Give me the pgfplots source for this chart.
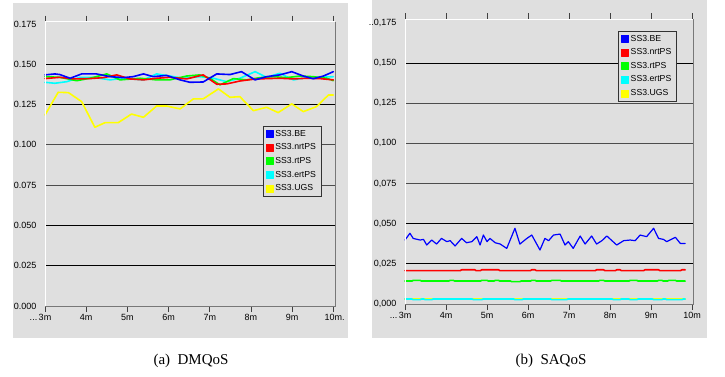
\documentclass[border=0pt]{standalone}
\usepackage{fontspec}
\setmainfont{Liberation Serif}
\newfontfamily\tahoma{Liberation Sans}
\usepackage{pgfplots}
\pgfplotsset{compat=1.18}
\definecolor{bg}{RGB}{223,223,223}
\definecolor{bordgray}{RGB}{120,120,120}
\definecolor{cBE}{RGB}{0,0,255}
\definecolor{cNRT}{RGB}{255,0,0}
\definecolor{cRT}{RGB}{0,255,0}
\definecolor{cERT}{RGB}{0,255,255}
\definecolor{cUGS}{RGB}{255,255,0}
\pgfplotsset{
  panel/.style={
    scale only axis, anchor=south west, clip=false,
    axis line style={draw=none},
    axis background/.style={fill=bg},
    ytick style={draw=none},
    xtick style={draw=black!75, line width=0.6pt},
    tick align=outside, major tick length=6pt,
    xtick={3,4,5,6,7,8,9,10},
    ytick={0,0.025,0.05,0.075,0.1,0.125,0.15,0.175},
    tick label style={font=\tahoma\fontsize{9}{10}\selectfont, text=black},
    /pgf/number format/assume math mode=true,
    yticklabel style={xshift=1pt},
    xticklabel style={yshift=1pt},
    every axis plot/.append style={line join=round, line cap=round},
    legend style={draw=black!80, fill=bg, font=\tahoma\fontsize{8.7}{9.5}\selectfont,
      inner xsep=3pt, inner ysep=2pt, row sep=2pt, cells={anchor=west}},
  },
}
\begin{document}
\begin{tikzpicture}
\path[use as bounding box] (0pt,0pt) rectangle (725pt,376pt);
\fill[bg] (13pt,38pt) rectangle (348pt,373pt);
\fill[bg] (372pt,38pt) rectangle (707pt,376pt);

% ---------------- left panel
\begin{axis}[panel, at={(45pt,70pt)}, width=290pt, height=284.3pt,
  xmin=3, xmax=10.04, ymin=0, ymax=0.1764,
  xticklabels={{\llap{...\,}3m},4m,5m,6m,7m,8m,9m,{10m\rlap{.}}},
  yticklabels={0.000,0.025,0.050,0.075,0.100,0.125,0.150,0.175},
  legend style={at={(0.751,0.633)}, anchor=north west}]
\addlegendimage{legend image code/.code={\fill[cBE] (0pt,-3.5pt) rectangle (7pt,3.5pt);}}
\addlegendentry{SS3.BE}
\addlegendimage{legend image code/.code={\fill[cNRT] (0pt,-3.5pt) rectangle (7pt,3.5pt);}}
\addlegendentry{SS3.nrtPS}
\addlegendimage{legend image code/.code={\fill[cRT] (0pt,-3.5pt) rectangle (7pt,3.5pt);}}
\addlegendentry{SS3.rtPS}
\addlegendimage{legend image code/.code={\fill[cERT] (0pt,-3.5pt) rectangle (7pt,3.5pt);}}
\addlegendentry{SS3.ertPS}
\addlegendimage{legend image code/.code={\fill[cUGS] (0pt,-3.5pt) rectangle (7pt,3.5pt);}}
\addlegendentry{SS3.UGS}
\draw[black, line width=0.7pt] (axis cs:3,0.025) -- (axis cs:10.04,0.025);
\draw[black, line width=0.7pt] (axis cs:3,0.05) -- (axis cs:10.04,0.05);
\draw[black!70, line width=0.9pt] (axis cs:3,0.075) -- (axis cs:10.04,0.075);
\draw[black!70, line width=0.9pt] (axis cs:3,0.1) -- (axis cs:10.04,0.1);
\draw[black, line width=0.7pt] (axis cs:3,0.125) -- (axis cs:10.04,0.125);
\draw[black, line width=0.7pt] (axis cs:3,0.15) -- (axis cs:10.04,0.15);
% UGS
\addplot[forget plot, cUGS, line width=1.6pt] coordinates {
(3.00,0.1185)(3.32,0.1326)(3.57,0.1324)(3.89,0.1268)(4.21,0.1109)(4.46,0.1138)(4.78,0.1138)
(5.10,0.1191)(5.39,0.1171)(5.71,0.1241)(5.95,0.1241)(6.28,0.1223)(6.60,0.1285)(6.84,0.1285)
(7.21,0.1347)(7.49,0.1295)(7.73,0.1299)(8.06,0.1212)(8.38,0.1233)(8.66,0.1200)(8.99,0.1254)
(9.27,0.1206)(9.59,0.1237)(9.88,0.1309)(10.00,0.1309)};
% ertPS
\addplot[forget plot, cERT, line width=1.6pt] coordinates {
(3.00,0.1388)(3.24,0.1382)(3.53,0.1392)(3.85,0.1419)(4.17,0.1419)(4.58,0.1403)(4.90,0.1413)
(5.39,0.1403)(5.71,0.1440)(6.03,0.1427)(6.36,0.1413)(6.76,0.1423)(7.09,0.1413)(7.41,0.1392)
(7.73,0.1413)(8.10,0.1454)(8.38,0.1419)(8.70,0.1444)(9.03,0.1403)(9.35,0.1417)(9.67,0.1419)(10.00,0.1423)};
% rtPS
\addplot[forget plot, cRT, line width=1.6pt] coordinates {
(3.00,0.1423)(3.36,0.1419)(3.77,0.1398)(4.09,0.1413)(4.50,0.1440)(4.82,0.1403)(5.31,0.1413)
(5.71,0.1403)(6.03,0.1403)(6.44,0.1427)(6.76,0.1434)(7.00,0.1413)(7.25,0.1372)(7.57,0.1411)
(7.89,0.1403)(8.22,0.1417)(8.54,0.1423)(8.87,0.1417)(9.19,0.1427)(9.51,0.1423)(9.84,0.1413)(10.00,0.1398)};
% nrtPS
\addplot[forget plot, cNRT, line width=1.6pt] coordinates {
(3.00,0.1411)(3.36,0.1419)(3.69,0.1409)(4.09,0.1411)(4.42,0.1417)(4.74,0.1434)(5.06,0.1409)
(5.39,0.1403)(5.71,0.1413)(6.03,0.1419)(6.44,0.1409)(6.84,0.1434)(7.17,0.1376)(7.41,0.1378)
(7.73,0.1396)(8.06,0.1407)(8.38,0.1411)(8.70,0.1413)(9.03,0.1409)(9.35,0.1413)(9.67,0.1411)(10.00,0.1403)};
% BE
\addplot[forget plot, cBE, line width=1.6pt] coordinates {
(3.00,0.1434)(3.24,0.1440)(3.36,0.1436)(3.61,0.1413)(3.89,0.1440)(4.25,0.1440)(4.58,0.1423)
(4.90,0.1417)(5.14,0.1423)(5.39,0.1440)(5.63,0.1423)(5.95,0.1431)(6.28,0.1403)(6.52,0.1388)
(6.84,0.1390)(7.17,0.1440)(7.49,0.1436)(7.77,0.1454)(8.10,0.1403)(8.38,0.1423)(8.70,0.1434)
(8.99,0.1454)(9.27,0.1427)(9.51,0.1410)(9.76,0.1427)(10.00,0.1454)};
\draw[white, line width=1pt] (rel axis cs:0,0) -- (rel axis cs:0,1) -- (rel axis cs:1,1);
\draw[bordgray, line width=0.8pt] (rel axis cs:1,1) -- (rel axis cs:1,0) -- (rel axis cs:0,0);
\end{axis}

% ---------------- right panel
\begin{axis}[panel, at={(405pt,72pt)}, width=288pt, height=285pt,
  xmin=3, xmax=10.02, ymin=0, ymax=0.1773,
  xticklabels={{\llap{...\,}3m},4m,5m,6m,7m,8m,9m,10m},
  yticklabels={{0,000},{0,025},{0,050},{0,075},{0,100},{0,125},{0,150},{..0,175}},
  legend style={at={(0.74,0.958)}, anchor=north west}]
\addlegendimage{legend image code/.code={\fill[cBE] (0pt,-3.5pt) rectangle (7pt,3.5pt);}}
\addlegendentry{SS3.BE}
\addlegendimage{legend image code/.code={\fill[cNRT] (0pt,-3.5pt) rectangle (7pt,3.5pt);}}
\addlegendentry{SS3.nrtPS}
\addlegendimage{legend image code/.code={\fill[cRT] (0pt,-3.5pt) rectangle (7pt,3.5pt);}}
\addlegendentry{SS3.rtPS}
\addlegendimage{legend image code/.code={\fill[cERT] (0pt,-3.5pt) rectangle (7pt,3.5pt);}}
\addlegendentry{SS3.ertPS}
\addlegendimage{legend image code/.code={\fill[cUGS] (0pt,-3.5pt) rectangle (7pt,3.5pt);}}
\addlegendentry{SS3.UGS}
\draw[black, line width=0.7pt] (axis cs:3,0.025) -- (axis cs:10.02,0.025);
\draw[black, line width=0.7pt] (axis cs:3,0.05) -- (axis cs:10.02,0.05);
\draw[black!70, line width=0.9pt] (axis cs:3,0.075) -- (axis cs:10.02,0.075);
\draw[black!70, line width=0.9pt] (axis cs:3,0.1) -- (axis cs:10.02,0.1);
\draw[black!70, line width=0.9pt] (axis cs:3,0.125) -- (axis cs:10.02,0.125);
\draw[black, line width=0.7pt] (axis cs:3,0.15) -- (axis cs:10.02,0.15);
% UGS
\addplot[forget plot, cUGS, line width=1.6pt] coordinates {(3.00,0.0031)(9.83,0.0031)};
% ertPS
\addplot[forget plot, cERT, line width=1.6pt] coordinates {
(3,0.0031)(3.17,0.0031)(3.20,0.0027)(3.37,0.0027)(3.40,0.0031)(3.46,0.0031)(3.49,0.0027)(3.65,0.0027)
(3.68,0.0031)(4.64,0.0031)(4.67,0.0027)(4.87,0.0027)(4.90,0.0031)(5.65,0.0031)(5.68,0.0027)(5.85,0.0027)
(5.88,0.0031)(6.55,0.0031)(6.58,0.0027)(6.94,0.0027)(6.97,0.0031)(8.05,0.0031)(8.08,0.0027)(8.24,0.0027)
(8.27,0.0031)(8.46,0.0031)(8.49,0.0027)(8.65,0.0027)(8.68,0.0031)(9.03,0.0031)(9.06,0.0027)(9.26,0.0027)
(9.29,0.0031)(9.35,0.0031)(9.38,0.0027)(9.75,0.0027)(9.78,0.0031)(9.83,0.0031)};
% rtPS
\addplot[forget plot, cRT, line width=1.6pt] coordinates {
(3,0.0143)(3.17,0.0143)(3.20,0.0147)(3.37,0.0147)(3.40,0.0143)(4.07,0.0143)(4.10,0.0147)(4.18,0.0147)
(4.21,0.0143)(4.84,0.0143)(4.87,0.0147)(5.00,0.0147)(5.03,0.0143)(5.17,0.0143)(5.20,0.0147)(5.28,0.0147)
(5.31,0.0143)(5.57,0.0143)(5.60,0.0139)(5.80,0.0139)(5.83,0.0143)(6.06,0.0143)(6.09,0.0147)(6.17,0.0147)
(6.20,0.0143)(6.55,0.0143)(6.58,0.0147)(6.78,0.0147)(6.81,0.0143)(7.72,0.0143)(7.75,0.0147)(7.84,0.0147)
(7.87,0.0143)(8.46,0.0143)(8.49,0.0147)(8.65,0.0147)(8.68,0.0143)(9.15,0.0143)(9.18,0.0147)(9.26,0.0147)
(9.29,0.0143)(9.40,0.0143)(9.43,0.0147)(9.59,0.0147)(9.62,0.0143)(9.83,0.0143)};
% nrtPS
\addplot[forget plot, cNRT, line width=1.6pt] coordinates {
(3,0.0208)(4.35,0.0208)(4.38,0.0213)(4.70,0.0213)(4.73,0.0208)(4.84,0.0208)(4.87,0.0213)(5.28,0.0213)
(5.31,0.0208)(6.06,0.0208)(6.09,0.0213)(6.17,0.0213)(6.20,0.0208)(7.64,0.0208)(7.67,0.0213)(7.84,0.0213)
(7.87,0.0208)(8.13,0.0208)(8.16,0.0213)(8.24,0.0213)(8.27,0.0208)(8.82,0.0208)(8.85,0.0213)(9.18,0.0213)
(9.21,0.0208)(9.72,0.0208)(9.75,0.0213)(9.83,0.0213)};
% BE
\addplot[forget plot, cBE, line width=1.2pt] coordinates {
(3.00,0.0398)(3.12,0.0440)(3.20,0.0408)(3.37,0.0398)(3.45,0.0402)(3.53,0.0367)(3.65,0.0398)
(3.77,0.0373)(3.89,0.0408)(4.02,0.0388)(4.10,0.0394)(4.22,0.0361)(4.38,0.0408)(4.50,0.0381)
(4.63,0.0388)(4.75,0.0419)(4.83,0.0367)(4.91,0.0429)(5.00,0.0388)(5.07,0.0408)(5.20,0.0381)
(5.32,0.0373)(5.48,0.0346)(5.68,0.0471)(5.80,0.0373)(5.97,0.0408)(6.09,0.0429)(6.29,0.0336)
(6.41,0.0408)(6.50,0.0394)(6.62,0.0429)(6.78,0.0435)(6.90,0.0367)(6.98,0.0388)(7.10,0.0346)
(7.27,0.0423)(7.39,0.0373)(7.55,0.0423)(7.67,0.0373)(7.80,0.0394)(7.92,0.0423)(8.16,0.0367)
(8.33,0.0394)(8.49,0.0398)(8.61,0.0394)(8.73,0.0429)(8.89,0.0419)(9.06,0.0471)(9.18,0.0408)
(9.30,0.0402)(9.38,0.0388)(9.59,0.0415)(9.71,0.0377)(9.83,0.0377)};
\draw[white, line width=1pt] (rel axis cs:0,0) -- (rel axis cs:0,1) -- (rel axis cs:1,1);
\draw[bordgray, line width=0.8pt] (rel axis cs:1,1) -- (rel axis cs:1,0) -- (rel axis cs:0,0);
\end{axis}

\node[font=\fontsize{15}{17}\selectfont] at (191pt,15pt) {(a)\ \ DMQoS};
\node[font=\fontsize{15}{17}\selectfont] at (551pt,15pt) {(b)\ \ SAQoS};
\end{tikzpicture}
\end{document}
